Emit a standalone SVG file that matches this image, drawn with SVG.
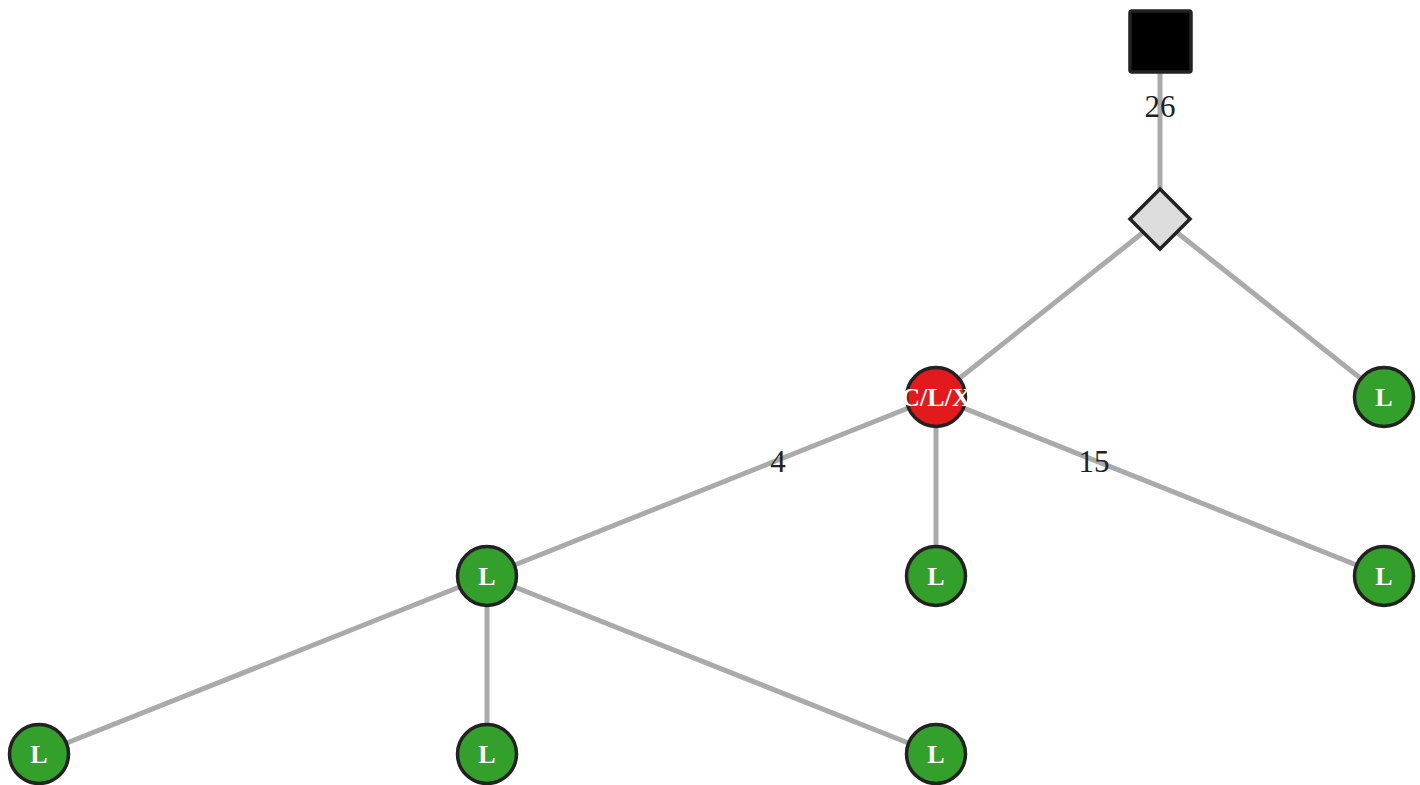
<svg xmlns="http://www.w3.org/2000/svg" width="1420" height="785" viewBox="0 0 1420 785">
<style>
.e{stroke:#aaaaaa;stroke-width:5;fill:none}
.n{stroke:#222222;stroke-width:3.5}
.g{fill:#33a02c}
.nt{font-family:"Liberation Serif",serif;font-weight:bold;font-size:26px;fill:#ffffff;text-anchor:middle}
.el{font-family:"Liberation Serif",serif;font-size:31px;fill:#222222;text-anchor:middle}
</style>
<rect width="1420" height="785" fill="#ffffff"/>
<g id="connectors">
<line class="e" x1="1160" y1="41" x2="1160" y2="219"/>
<line class="e" x1="1160" y1="219" x2="936" y2="397"/>
<line class="e" x1="1160" y1="219" x2="1384" y2="397"/>
<line class="e" x1="936" y1="397" x2="487" y2="576"/>
<line class="e" x1="936" y1="397" x2="936" y2="576"/>
<line class="e" x1="936" y1="397" x2="1384" y2="576"/>
<line class="e" x1="487" y1="576" x2="39" y2="754"/>
<line class="e" x1="487" y1="576" x2="487" y2="754"/>
<line class="e" x1="487" y1="576" x2="936" y2="754"/>
<text class="el" x="1160" y="117">26</text>
<text class="el" x="778" y="472">4</text>
<text class="el" x="1094" y="472">15</text>
</g>
<g id="root"><rect class="n" x="1130" y="11" width="61" height="61" rx="2" fill="#000000"/></g>
<g id="diamond"><polygon class="n" points="1160,189 1190,219 1160,249 1130,219" fill="#dddddd"/></g>
<g id="clx"><circle class="n" cx="936" cy="397" r="29.5" fill="#e31a1c"/><text class="nt" x="936" y="406">C/L/X</text></g>
<g id="l1"><circle class="n g" cx="1384" cy="397" r="29.5"/><text class="nt" x="1384" y="406">L</text></g>
<g id="l2"><circle class="n g" cx="487" cy="576" r="29.5"/><text class="nt" x="487" y="585">L</text></g>
<g id="l3"><circle class="n g" cx="936" cy="576" r="29.5"/><text class="nt" x="936" y="585">L</text></g>
<g id="l4"><circle class="n g" cx="1384" cy="576" r="29.5"/><text class="nt" x="1384" y="585">L</text></g>
<g id="l5"><circle class="n g" cx="39" cy="754" r="29.5"/><text class="nt" x="39" y="763">L</text></g>
<g id="l6"><circle class="n g" cx="487" cy="754" r="29.5"/><text class="nt" x="487" y="763">L</text></g>
<g id="l7"><circle class="n g" cx="936" cy="754" r="29.5"/><text class="nt" x="936" y="763">L</text></g>
</svg>
